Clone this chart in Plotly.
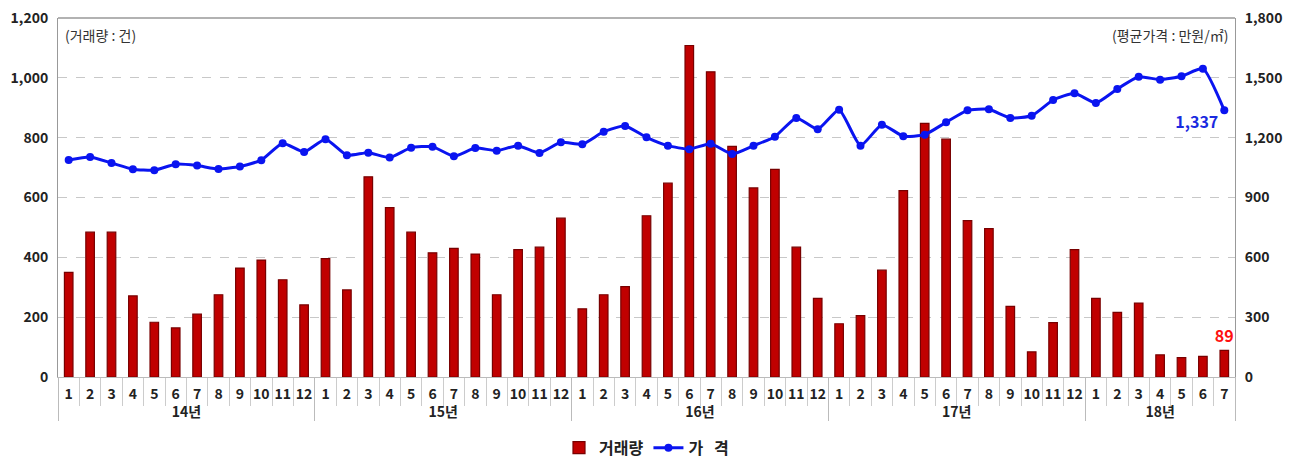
import plotly.graph_objects as go

years = ["14년"] * 12 + ["15년"] * 12 + ["16년"] * 12 + ["17년"] * 12 + ["18년"] * 7
months = [str(m) for m in range(1, 13)] * 4 + [str(m) for m in range(1, 8)]

volume = [350, 484, 484, 271, 183, 164, 210, 275, 364, 391, 325, 241,
          396, 291, 669, 566, 484, 415, 430, 411, 275, 426, 434, 531,
          228, 275, 302, 539, 648, 1108, 1020, 771, 632, 694, 434, 263,
          178, 205, 357, 623, 848, 795, 523, 496, 236, 84, 182, 426,
          263, 216, 247, 74, 65, 69, 89]

price = [1088, 1103, 1073, 1042, 1037, 1067, 1060, 1043, 1055, 1087, 1172, 1128,
         1192, 1112, 1125, 1100, 1150, 1155, 1107, 1148, 1135, 1160, 1123, 1177,
         1167, 1230, 1259, 1202, 1160, 1142, 1170, 1118, 1160, 1205, 1299, 1242,
         1340, 1160, 1265, 1207, 1215, 1277, 1337, 1342, 1299, 1310, 1389, 1423,
         1374, 1444, 1505, 1491, 1508, 1546, 1337]

vol_text = [""] * (len(volume) - 1) + [f"{volume[-1]:,}"]
price_text = [""] * (len(price) - 1) + [f"{price[-1]:,}"]

FONT = "Noto Sans CJK KR"

fig = go.Figure()
fig.add_trace(go.Bar(
    x=[years, months], y=volume, name="거래량",
    marker=dict(color="#C00000", line=dict(color="#780000", width=1.2)),
    text=vol_text, textposition="outside", constraintext="none",
    textfont=dict(color="#FF1010", size=16, family=FONT, weight="bold"),
    cliponaxis=False,
))
fig.add_trace(go.Scatter(
    x=[years, months], y=price, name="가\u00a0\u00a0\u00a0격", yaxis="y2",
    mode="lines+markers+text",
    line=dict(color="#0A14F0", width=3, shape="spline", smoothing=0.5),
    marker=dict(color="#0A14F0", size=8),
    text=price_text, textposition="bottom left",
    textfont=dict(color="#1A2AE0", size=16, family=FONT, weight="bold"),
    cliponaxis=False,
))

fig.update_layout(
    width=1286, height=452,
    margin=dict(l=50, r=59, t=10, b=83),
    plot_bgcolor="white", paper_bgcolor="white",
    bargap=0.6,
    font=dict(family=FONT, color="#222222"),
    showlegend=True,
    legend=dict(orientation="h", x=0.5, xanchor="center",
                yref="container", y=0.027, yanchor="middle",
                font=dict(size=16, family=FONT, weight="bold", color="#222222"),
                tracegroupgap=0),
    xaxis=dict(
        type="multicategory", automargin=False,
        range=[-0.5, len(months) - 0.5], autorange=False,
        showline=True, linecolor="#BBBBBB", linewidth=1,
        ticks="outside", ticklen=28, tickcolor="#CCCCCC", tickangle=0,
        ticklabelstandoff=4,
        showdividers=True, dividercolor="#BBBBBB", dividerwidth=1,
        tickfont=dict(size=14, family=FONT, weight="bold", color="#222222"),
        showgrid=False, mirror=False,
    ),
    yaxis=dict(
        range=[0, 1200], dtick=200, tickformat=",", automargin=False,
        ticklabeloverflow="allow",
        showline=True, linecolor="#999999", linewidth=1,
        showgrid=True, gridcolor="#C8C8C8", griddash="dash", gridwidth=1,
        tickfont=dict(size=14, family=FONT, weight="bold", color="#222222"),
        ticks="", ticklabelstandoff=6, zeroline=False,
    ),
    yaxis2=dict(
        range=[0, 1800], dtick=300, tickformat=",", overlaying="y", side="right",
        automargin=False, ticklabeloverflow="allow",
        showline=True, linecolor="#999999", linewidth=1,
        showgrid=False, zeroline=False,
        tickfont=dict(size=14, family=FONT, weight="bold", color="#222222"),
        ticks="", ticklabelstandoff=6,
    ),
    shapes=[dict(type="line", xref="paper", yref="paper", x0=0, x1=1, y0=1, y1=1,
                 line=dict(color="#999999", width=1.5))],
    annotations=[
        dict(text="(거래량 : 건)", xref="paper", yref="paper", x=0.004, y=0.985,
             xanchor="left", yanchor="top", showarrow=False,
             font=dict(size=14, family=FONT, color="#333333")),
        dict(text="(평균가격 : 만원/㎡)", xref="paper", yref="paper", x=0.996, y=0.985,
             xanchor="right", yanchor="top", showarrow=False,
             font=dict(size=14, family=FONT, color="#333333")),
    ],
)

fig.write_html("out.html")
